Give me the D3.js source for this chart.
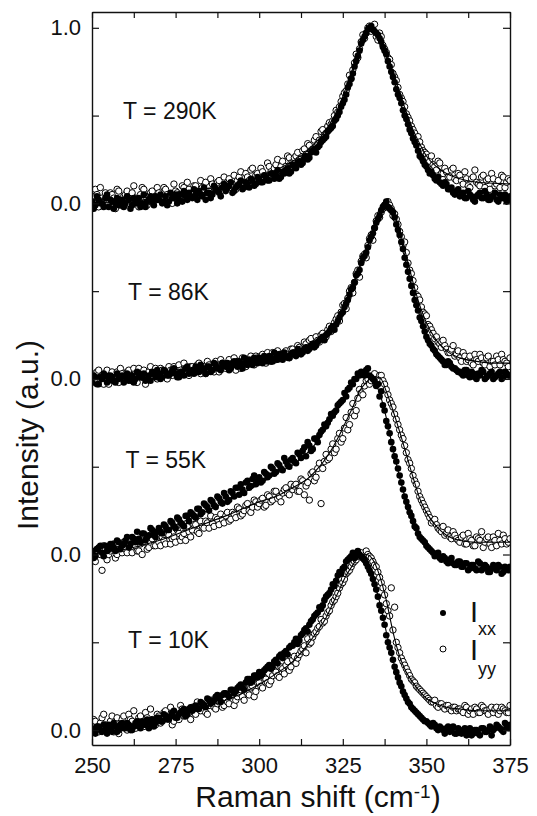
<!DOCTYPE html>
<html>
<head>
<meta charset="utf-8">
<script src="https://cdn.jsdelivr.net/npm/d3@7"></script>
<style>
  body { margin: 0; background: #fff; }
  svg { display: block; font-family: "Liberation Sans", Arial, Helvetica, sans-serif; }
</style>
</head>
<body>
<svg id="chart" width="537" height="816"></svg>
<script>
// measured channels: whole wavenumbers and the half steps between them
const shift = d3.range(250, 376);
const shiftHalf = d3.range(250.5, 375, 1);

// knots of the fitted curves
const fitShift = [250,260,270,280,290,295,300,305,310,315,318,320,322,324,326,328,330,332,334,336,338,340,342,344,346,348,350,353,356,360,365,370,375];

// T = 290K
const xx290 = [
  .01,-.01,.02,.00,.03,-.02,.01,.00,-.01,.02,
  .00,.02,-.01,.01,.03,.00,-.02,.02,.01,.04,
  .02,.00,.04,.01,.03,.05,.02,.01,.04,.06,
  .03,.05,.07,.04,.02,.06,.05,.08,.06,.09,
  .07,.10,.06,.09,.11,.08,.12,.09,.13,.11,
  .14,.12,.15,.13,.17,.16,.14,.18,.19,.17,
  .22,.20,.24,.23,.27,.26,.30,.29,.33,.36,
  .38,.42,.44,.48,.52,.57,.62,.68,.74,.81,
  .87,.93,.97,1.00,.99,.97,.94,.89,.85,.78,
  .72,.65,.60,.53,.48,.42,.37,.33,.27,.24,
  .21,.17,.16,.13,.12,.10,.11,.08,.06,.07,
  .04,.06,.03,.05,.02,.04,.06,.03,.05,.02,
  .04,.02,.05,.03,.01,.04];
const xx290h = [
  -.03,.04,.00,-.02,.05,.02,-.03,.03,.01,-.02,
  .04,-.03,.03,.00,-.02,.05,.01,.04,-.01,.02,
  .05,.01,-.01,.06,.03,.00,.05,.07,.02,.04,
  .08,.02,.05,.09,.06,.03,.10,.07,.04,.11,
  .09,.12,.07,.10,.13,.09,.11,.14,.10,.15,
  .12,.16,.13,.17,.14,.19,.15,.17,.20,.18,
  .21,.23,.22,.26,.25,.29,.31,.32,.35,.37,
  .41,.43,.47,.50,.55,.59,.66,.71,.78,.84,
  .91,.95,.99,1.01,.98,.96,.92,.87,.81,.75,
  .69,.62,.57,.50,.45,.40,.35,.30,.26,.22,
  .19,.18,.14,.15,.11,.12,.08,.09,.05,.08,
  .05,.03,.07,.04,.01,.05,.03,.07,.02,.04,
  .06,.01,.03,.05,.02];
const yy290 = [
  .04,.08,-.02,.03,.06,.00,.05,-.03,.07,.02,
  .05,.00,.06,.03,-.02,.09,.04,.01,.07,.03,
  .06,.02,.08,.04,.00,.07,.05,.10,.03,.08,
  .06,.10,.05,.09,.12,.07,.11,.08,.13,.10,
  .09,.14,.11,.08,.15,.12,.17,.13,.20,.16,
  .14,.18,.16,.21,.17,.22,.19,.24,.21,.26,
  .23,.27,.25,.30,.28,.33,.31,.38,.36,.42,
  .40,.46,.47,.53,.55,.61,.64,.73,.76,.85,
  .88,.96,.97,1.01,.99,.95,.97,.90,.86,.82,
  .74,.70,.62,.58,.51,.47,.42,.37,.35,.30,
  .28,.24,.22,.19,.23,.17,.18,.15,.20,.13,
  .16,.11,.14,.09,.15,.12,.10,.16,.13,.08,
  .14,.11,.09,.15,.12,.13];
const yy290h = [
  .00,.05,.09,.01,-.01,.06,.03,.08,-.01,.04,
  .07,.02,.10,.01,.05,.08,-.01,.06,.03,.09,
  .03,.09,.05,.01,.11,.06,.03,.09,.12,.05,
  .10,.04,.13,.08,.06,.14,.09,.12,.07,.15,
  .12,.09,.16,.13,.18,.10,.15,.19,.14,.17,
  .20,.15,.23,.18,.20,.25,.21,.18,.27,.23,
  .26,.29,.24,.31,.34,.30,.36,.34,.41,.39,
  .44,.45,.50,.52,.58,.63,.68,.71,.80,.83,
  .92,.94,1.00,.98,1.02,.93,.95,.88,.83,.79,
  .72,.66,.60,.55,.49,.44,.40,.38,.32,.29,
  .26,.27,.21,.24,.17,.20,.15,.19,.14,.17,
  .13,.18,.10,.14,.19,.11,.15,.09,.14,.17,
  .10,.13,.16,.09,.14];
const fitXx290 = [.00,.01,.03,.05,.08,.10,.13,.16,.21,.28,.34,.39,.45,.53,.63,.75,.88,.97,1.00,.95,.84,.72,.59,.47,.37,.28,.21,.14,.10,.05,.04,.035,.03];
const fitYy290 = [.02,.03,.04,.07,.10,.12,.15,.19,.24,.31,.37,.42,.48,.56,.66,.77,.89,.98,1.00,.96,.86,.75,.63,.52,.42,.34,.27,.21,.17,.14,.12,.115,.11];

// T = 86K
const xx86 = [
  -.02,.01,-.03,.00,.02,-.01,.01,-.02,.00,.02,
  .01,-.01,.02,.00,.03,.01,-.01,.02,.04,.01,
  .03,.01,.04,.02,.05,.03,.01,.04,.06,.03,
  .05,.07,.04,.06,.03,.07,.05,.08,.06,.09,
  .07,.05,.09,.08,.10,.06,.09,.11,.08,.10,
  .12,.09,.11,.13,.10,.12,.14,.11,.13,.12,
  .15,.13,.16,.15,.18,.17,.20,.19,.22,.24,
  .25,.27,.30,.31,.35,.38,.43,.48,.52,.59,
  .62,.69,.72,.79,.83,.89,.93,.98,1.01,.97,
  .95,.88,.82,.74,.65,.57,.49,.42,.35,.30,
  .24,.20,.17,.14,.12,.10,.08,.09,.06,.05,
  .04,.02,.05,.01,.03,.00,.02,.04,.01,.03,
  .00,.02,.04,.01,.03,.02];
const xx86h = [
  .02,-.03,.01,.03,-.02,.02,-.01,.03,.01,-.02,
  .03,.00,-.02,.04,.01,.03,.00,-.01,.03,.05,
  .00,.05,.02,.03,.06,.01,.04,.02,.07,.04,
  .03,.06,.08,.05,.07,.04,.09,.06,.05,.08,
  .09,.06,.10,.07,.09,.12,.08,.10,.12,.09,
  .11,.13,.10,.12,.15,.11,.13,.15,.12,.14,
  .14,.17,.14,.17,.16,.19,.18,.21,.23,.22,
  .26,.29,.28,.33,.37,.41,.45,.51,.55,.60,
  .66,.70,.75,.81,.86,.91,.96,.99,.98,.96,
  .92,.85,.78,.69,.61,.53,.45,.39,.33,.27,
  .22,.19,.16,.13,.11,.08,.10,.07,.06,.04,
  .03,.05,.02,.04,.01,.03,.05,.00,.02,.04,
  .01,.03,.00,.04,.02];
const yy86 = [
  .03,-.02,.05,.00,.02,-.03,.04,.01,-.02,.03,
  .00,.05,-.01,.03,.06,.01,-.03,.04,.02,.06,
  .01,.05,.03,.07,.02,.04,.08,.03,.06,.02,
  .07,.04,.09,.05,.03,.08,.06,.10,.04,.09,
  .06,.11,.08,.05,.10,.12,.07,.11,.09,.13,
  .10,.14,.09,.12,.15,.11,.14,.13,.16,.12,
  .17,.14,.18,.16,.20,.22,.19,.24,.21,.26,
  .24,.30,.28,.34,.33,.42,.40,.50,.49,.60,
  .58,.70,.69,.80,.79,.90,.92,.97,.98,.99,
  .93,.91,.84,.76,.72,.62,.56,.48,.45,.38,
  .36,.30,.26,.24,.20,.22,.17,.15,.19,.14,
  .12,.15,.10,.13,.08,.11,.14,.09,.12,.07,
  .10,.13,.08,.11,.09,.12];
const yy86h = [
  -.01,.04,.01,-.03,.05,.02,-.01,.04,.06,.00,
  .04,.02,.06,-.02,.03,.05,.01,.07,.03,.00,
  .06,.03,.00,.05,.07,.02,.05,.09,.04,.07,
  .05,.08,.03,.07,.10,.06,.04,.08,.11,.07,
  .09,.07,.12,.10,.06,.11,.09,.13,.08,.12,
  .13,.11,.15,.10,.13,.16,.12,.15,.14,.17,
  .15,.19,.17,.21,.18,.23,.20,.22,.25,.23,
  .28,.27,.32,.36,.38,.43,.46,.52,.55,.62,
  .67,.71,.76,.82,.86,.93,.95,.99,1.01,.97,
  .94,.88,.81,.78,.66,.60,.52,.47,.41,.37,
  .31,.28,.23,.21,.18,.19,.15,.17,.13,.16,
  .10,.13,.11,.09,.14,.10,.12,.08,.13,.10,
  .08,.11,.14,.10,.07];
const fitXx86 = [.00,.01,.03,.05,.07,.08,.10,.12,.14,.18,.21,.25,.29,.35,.43,.53,.63,.73,.83,.94,1.00,.95,.83,.66,.50,.36,.25,.15,.09,.05,.03,.025,.02];
const fitYy86 = [.00,.02,.03,.05,.07,.09,.10,.12,.15,.19,.22,.26,.30,.36,.44,.54,.64,.74,.84,.94,1.00,.96,.85,.70,.55,.42,.32,.22,.16,.12,.10,.09,.09];

// T = 55K
const xx55 = [
  .02,-.01,.04,.01,.05,.03,.06,.02,.07,.05,
  .08,.04,.10,.07,.09,.12,.08,.11,.14,.10,
  .15,.12,.16,.14,.18,.15,.20,.17,.22,.19,
  .23,.21,.26,.24,.28,.25,.30,.27,.32,.29,
  .33,.31,.35,.38,.34,.37,.41,.38,.43,.40,
  .44,.42,.46,.45,.49,.47,.51,.48,.53,.50,
  .55,.52,.57,.59,.56,.62,.60,.66,.68,.71,
  .73,.77,.79,.82,.86,.88,.90,.95,.97,1.00,
  1.02,1.03,1.05,1.02,1.00,.96,.90,.85,.76,.69,
  .60,.53,.45,.37,.30,.24,.19,.15,.10,.08,
  .05,.03,.01,.00,-.02,-.01,-.04,-.03,-.05,-.06,
  -.04,-.07,-.05,-.08,-.06,-.09,-.05,-.08,-.07,-.10,
  -.06,-.09,-.07,-.10,-.08,-.07];
const xx55h = [
  -.02,.03,.05,-.01,.02,.06,.04,.08,.03,.06,
  .10,.06,.09,.13,.07,.12,.10,.15,.11,.13,
  .13,.17,.14,.19,.16,.21,.18,.16,.22,.24,
  .22,.26,.23,.29,.27,.31,.28,.33,.30,.35,
  .30,.36,.33,.38,.40,.35,.42,.39,.45,.42,
  .41,.47,.44,.50,.46,.52,.49,.55,.51,.54,
  .53,.58,.55,.61,.64,.59,.66,.64,.70,.74,
  .75,.80,.81,.85,.87,.92,.94,.98,1.00,1.03,
  1.04,1.02,1.06,1.01,.99,.97,.93,.82,.73,.64,
  .56,.49,.41,.33,.27,.22,.16,.12,.09,.07,
  .04,.02,-.01,.01,-.03,-.02,-.05,-.02,-.06,-.04,
  -.07,-.05,-.09,-.06,-.08,-.04,-.09,-.06,-.10,-.08,
  -.08,-.06,-.11,-.07,-.09];
const yy55 = [
  .02,-.04,.01,-.09,.03,.00,.04,-.02,.05,.01,
  .03,.06,.01,.05,.02,.00,.07,.04,.09,.05,
  .07,.10,.06,.11,.09,.07,.12,.10,.08,.13,
  .14,.17,.12,.16,.19,.15,.18,.21,.17,.20,
  .22,.19,.24,.21,.26,.23,.28,.25,.27,.30,
  .29,.32,.28,.33,.31,.36,.33,.35,.38,.34,
  .37,.40,.36,.42,.39,.31,.47,.44,.52,.49,
  .57,.55,.63,.60,.69,.66,.78,.74,.86,.82,
  .94,.91,.99,.97,1.01,.98,1.02,.99,.94,.88,
  .84,.77,.71,.66,.58,.52,.45,.40,.33,.29,
  .25,.21,.19,.17,.14,.16,.12,.10,.13,.09,
  .07,.11,.06,.09,.05,.10,.08,.04,.09,.06,
  .10,.05,.08,.11,.06,.09];
const yy55h = [
  -.02,.03,.00,.05,-.03,.02,.06,.00,.03,.07,
  .01,.04,.08,.02,.06,.10,.03,.07,.05,.10,
  .05,.08,.12,.06,.10,.14,.08,.12,.16,.10,
  .17,.13,.19,.15,.18,.22,.16,.20,.23,.18,
  .24,.20,.23,.27,.22,.25,.29,.24,.31,.27,
  .31,.27,.34,.30,.36,.32,.30,.37,.35,.40,
  .39,.36,.43,.34,.41,.46,.42,.49,.29,.53,
  .54,.60,.58,.66,.64,.72,.71,.81,.79,.89,
  .92,.96,1.00,.99,1.03,1.00,1.02,.97,.91,.86,
  .80,.74,.68,.62,.54,.49,.42,.36,.31,.27,
  .23,.18,.20,.15,.13,.11,.14,.09,.11,.08,
  .10,.06,.12,.08,.05,.09,.13,.07,.10,.04,
  .08,.12,.06,.09,.07];
const fitXx55 = [.00,.06,.13,.21,.30,.35,.40,.46,.51,.59,.66,.72,.78,.84,.91,.97,1.02,1.04,1.00,.92,.78,.60,.44,.30,.19,.11,.05,.00,-.03,-.05,-.07,-.075,-.08];
const fitYy55 = [.00,.03,.08,.15,.22,.26,.30,.33,.38,.44,.50,.55,.61,.68,.76,.84,.93,.98,1.01,1.01,.93,.82,.70,.57,.44,.32,.24,.16,.11,.08,.07,.07,.07];

// T = 10K
const xx10 = [
  .01,-.02,.02,-.01,.00,.03,-.01,.02,.00,.04,
  .01,.03,.00,.04,.02,.05,.03,.01,.06,.04,
  .07,.05,.08,.06,.10,.07,.09,.11,.08,.12,
  .11,.14,.12,.15,.13,.17,.16,.19,.18,.20,
  .21,.19,.23,.22,.25,.24,.27,.29,.28,.31,
  .33,.32,.35,.37,.36,.40,.42,.41,.45,.47,
  .48,.52,.51,.55,.58,.60,.63,.66,.70,.71,
  .76,.78,.83,.85,.90,.92,.96,.98,1.01,.99,
  1.00,.98,.95,.91,.86,.80,.71,.64,.54,.47,
  .40,.33,.27,.22,.18,.15,.12,.10,.08,.06,
  .05,.03,.04,.01,.02,.00,.01,-.01,.02,-.02,
  .00,-.01,-.03,.01,-.02,.00,-.03,.01,-.01,.02,
  .00,.03,.01,-.01,.02,.03];
const xx10h = [
  -.01,.02,.00,.03,-.02,.01,.04,-.01,.03,.01,
  .04,.00,.02,.05,.01,.03,.06,.04,.02,.07,
  .05,.09,.06,.08,.11,.07,.10,.12,.09,.13,
  .13,.12,.16,.14,.18,.15,.17,.20,.16,.21,
  .20,.23,.21,.24,.26,.23,.29,.27,.31,.30,
  .31,.34,.36,.35,.39,.38,.43,.44,.43,.48,
  .50,.49,.54,.57,.56,.62,.65,.67,.69,.74,
  .77,.80,.82,.88,.89,.93,.97,.99,.98,1.02,
  .99,.97,.93,.89,.83,.76,.68,.60,.50,.44,
  .36,.30,.25,.20,.16,.13,.11,.09,.07,.05,
  .04,.02,.03,.00,.01,-.02,.02,.00,-.02,.01,
  -.02,.01,-.01,-.03,.00,-.02,.01,-.01,.00,-.03,
  .01,.02,.00,.04,.01];
const yy10 = [
  .02,.05,-.01,.07,.03,.00,.08,.04,-.02,.06,
  .03,.09,.05,.01,.07,.04,.10,.02,.06,.03,
  .08,.05,.11,.07,.03,.09,.06,.12,.08,.10,
  .13,.09,.12,.15,.10,.14,.17,.12,.16,.13,
  .18,.15,.20,.17,.21,.19,.23,.20,.25,.22,
  .27,.24,.29,.26,.31,.33,.30,.35,.37,.34,
  .40,.38,.43,.46,.44,.49,.53,.56,.59,.61,
  .65,.68,.73,.76,.81,.84,.89,.91,.95,.97,
  1.00,.98,1.02,.99,.96,.93,.87,.81,.72,.65,
  .57,.50,.44,.39,.35,.31,.28,.25,.23,.21,
  .19,.17,.16,.14,.15,.13,.14,.12,.13,.11,
  .12,.10,.13,.11,.09,.12,.10,.13,.11,.12,
  .10,.13,.11,.12,.10,.14];
const yy10h = [
  .06,.00,.04,.09,.01,.05,-.01,.07,.03,.08,
  .00,.06,.11,.04,.08,.02,.07,.12,.05,.09,
  .04,.10,.07,.13,.05,.09,.14,.08,.11,.06,
  .10,.16,.11,.14,.09,.17,.13,.15,.19,.14,
  .16,.21,.14,.19,.23,.17,.21,.24,.19,.27,
  .25,.30,.27,.28,.34,.31,.36,.32,.39,.36,
  .42,.41,.45,.48,.52,.50,.55,.58,.63,.62,
  .67,.71,.74,.78,.83,.86,.90,.93,.96,.99,
  1.01,.97,1.00,.98,.94,.90,.84,.77,.68,.81,
  .70,.47,.41,.37,.33,.29,.27,.24,.22,.20,
  .18,.16,.17,.13,.15,.12,.14,.11,.13,.12,
  .11,.14,.09,.12,.13,.10,.14,.11,.09,.13,
  .12,.09,.13,.11,.10];
const fitXx10 = [.00,.02,.06,.12,.20,.25,.32,.40,.49,.61,.69,.75,.82,.89,.95,.99,1.00,.96,.87,.73,.56,.40,.27,.18,.12,.08,.05,.02,.01,.00,.00,.01,.02];
const fitYy10 = [.00,.03,.06,.11,.17,.21,.26,.32,.39,.50,.58,.64,.72,.80,.88,.94,.99,1.00,.97,.88,.74,.56,.42,.33,.27,.22,.18,.15,.13,.12,.11,.11,.11];

const tempLabels = ["T = 290K", "T = 86K", "T = 55K", "T = 10K"];
const offsets = [3, 2, 1, 0];
const xTickValues = d3.range(250, 376, 12.5);
const yTickValues = d3.range(0, 4.01, 0.5);

const panels = [
  {label: tempLabels[0], offset: offsets[0], xx: xx290, xxH: xx290h, yy: yy290, yyH: yy290h, fitXx: fitXx290, fitYy: fitYy290},
  {label: tempLabels[1], offset: offsets[1], xx: xx86,  xxH: xx86h,  yy: yy86,  yyH: yy86h,  fitXx: fitXx86,  fitYy: fitYy86},
  {label: tempLabels[2], offset: offsets[2], xx: xx55,  xxH: xx55h,  yy: yy55,  yyH: yy55h,  fitXx: fitXx55,  fitYy: fitYy55},
  {label: tempLabels[3], offset: offsets[3], xx: xx10,  xxH: xx10h,  yy: yy10,  yyH: yy10h,  fitXx: fitXx10,  fitYy: fitYy10}
];

const svg = d3.select("#chart");
const plotLeft = 92, plotRight = 510, plotTop = 12, plotBottom = 745;

const x = d3.scaleLinear().domain([250, 375]).range([plotLeft, plotRight]);
const y = d3.scaleLinear().domain([-0.085, 4.09]).range([plotBottom, plotTop]);

svg.append("defs").append("clipPath").attr("id", "plot")
  .append("rect").attr("x", plotLeft).attr("y", plotTop)
  .attr("width", plotRight - plotLeft).attr("height", plotBottom - plotTop);

const plot = svg.append("g").attr("clip-path", "url(#plot)");

const line = d3.line().x(d => x(d[0])).y(d => y(d[1])).curve(d3.curveMonotoneX);

// pair each value with its channel
const pts = (vals, grid) => vals.map((v, i) => [grid[i], v]);

panels.forEach(p => {
  const g = plot.append("g");
  const open = pts(p.yy, shift).concat(pts(p.yyH, shiftHalf)).sort((a, b) => a[0] - b[0]);
  const filled = pts(p.xx, shift).concat(pts(p.xxH, shiftHalf)).sort((a, b) => a[0] - b[0]);
  // open circles (Iyy) first, filled (Ixx) on top
  g.selectAll(".yy").data(open).join("circle").attr("class", "yy")
    .attr("cx", d => x(d[0]))
    .attr("cy", d => y(d[1] + p.offset))
    .attr("r", 3.2)
    .attr("fill", "#fff").attr("stroke", "#000").attr("stroke-width", 1);
  g.selectAll(".xx").data(filled).join("circle").attr("class", "xx")
    .attr("cx", d => x(d[0]))
    .attr("cy", d => y(d[1] + p.offset))
    .attr("r", 3.3)
    .attr("fill", "#000");
  [p.fitXx, p.fitYy].forEach(fit => {
    g.append("path")
      .datum(fitShift.map((s, i) => [s, fit[i] + p.offset]))
      .attr("d", line)
      .attr("fill", "none").attr("stroke", "#000").attr("stroke-width", 1.1);
  });
});

// temperature labels
const labelAt = [[259.3, 0.48], [260.8, 0.45], [260, 0.49], [260.8, 0.47]];
panels.forEach((p, i) => {
  svg.append("text")
    .attr("x", x(labelAt[i][0]))
    .attr("y", y(p.offset + labelAt[i][1]))
    .attr("font-size", 23).attr("fill", "#111")
    .text(p.label);
});

// axes
function styleAxis(g) {
  g.attr("font-family", null).attr("font-size", 22);
  g.select(".domain").attr("stroke", "#111").attr("stroke-width", 1.4);
  g.selectAll(".tick line").attr("stroke", "#111").attr("stroke-width", 1.2);
  g.selectAll(".tick text").attr("fill", "#111");
}

svg.append("g").attr("transform", `translate(0,${plotBottom})`)
  .call(d3.axisBottom(x).tickValues(xTickValues).tickSizeInner(-6).tickSizeOuter(0).tickPadding(12)
    .tickFormat(d => d % 25 === 0 ? d : ""))
  .call(styleAxis);

svg.append("g").attr("transform", `translate(0,${plotTop})`)
  .call(d3.axisTop(x).tickValues(xTickValues).tickSizeInner(-6).tickSizeOuter(0).tickFormat(""))
  .call(styleAxis);

svg.append("g").attr("transform", `translate(${plotLeft},0)`)
  .call(d3.axisLeft(y).tickValues(yTickValues).tickSizeInner(-7).tickSizeOuter(0).tickPadding(11)
    .tickFormat(d => d === 4 ? "1.0" : (Number.isInteger(d) ? "0.0" : "")))
  .call(styleAxis);

svg.append("g").attr("transform", `translate(${plotRight},0)`)
  .call(d3.axisRight(y).tickValues(yTickValues).tickSizeInner(-7).tickSizeOuter(0).tickFormat(""))
  .call(styleAxis);

// axis titles
svg.append("text")
  .attr("transform", "translate(38,435) rotate(-90)")
  .attr("text-anchor", "middle").attr("font-size", 30).attr("fill", "#111")
  .text("Intensity (a.u.)");

const xt = svg.append("text")
  .attr("x", 318).attr("y", 807)
  .attr("text-anchor", "middle").attr("font-size", 30).attr("fill", "#111");
xt.append("tspan").text("Raman shift (cm");
xt.append("tspan").attr("font-size", 19).attr("dy", -9).text("-1");
xt.append("tspan").attr("dy", 9).text(")");

// legend
const legend = svg.append("g").attr("fill", "#111");
legend.append("circle").attr("cx", 443).attr("cy", 613).attr("r", 3).attr("fill", "#000");
legend.append("circle").attr("cx", 443).attr("cy", 649).attr("r", 3)
  .attr("fill", "#fff").attr("stroke", "#000").attr("stroke-width", 1);
const l1 = legend.append("text").attr("x", 470).attr("y", 622).attr("font-size", 29);
l1.append("tspan").text("I");
l1.append("tspan").attr("font-size", 18).attr("dy", 13).text("xx");
const l2 = legend.append("text").attr("x", 470).attr("y", 660).attr("font-size", 29);
l2.append("tspan").text("I");
l2.append("tspan").attr("font-size", 18).attr("dy", 15).text("yy");
</script>
</body>
</html>
